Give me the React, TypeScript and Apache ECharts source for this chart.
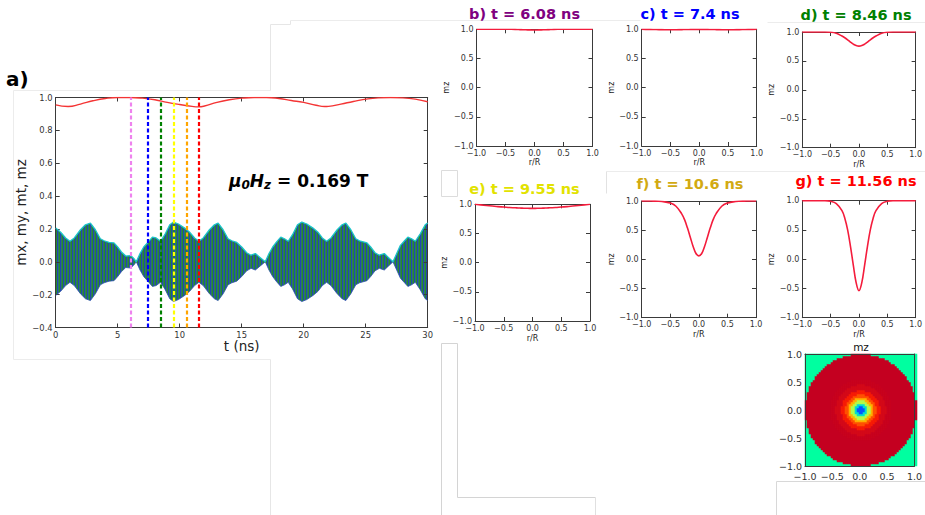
import React, { useEffect, useRef } from "react";
import * as echarts from "echarts";

// ---------------- data ----------------
// panel a: time axis (ns)
const mzT = [0, 1, 2, 3, 4, 5, 6, 7, 8, 9, 10, 11, 11.5, 12, 13, 14, 15, 16, 17, 18, 19, 20, 21, 21.7, 22, 23, 24, 25, 26, 27, 28, 29, 30];
const mzV = [0.955, 0.945, 0.96, 0.98, 0.994, 1.0, 1.0, 0.996, 0.986, 0.97, 0.957, 0.946, 0.943, 0.948, 0.97, 0.986, 0.996, 1.0, 1.0, 0.994, 0.982, 0.97, 0.953, 0.945, 0.946, 0.96, 0.976, 0.99, 0.998, 1.0, 0.998, 0.99, 0.974];

// transverse magnetisation envelope mt (mx, my oscillate inside +-mt)
const envT = [0, 0.4, 0.8, 1.15, 1.5, 2.0, 2.4, 2.8, 3.2, 3.6, 3.9, 4.3, 4.7, 5.0, 5.3, 5.65, 6.05, 6.3, 6.5, 6.8, 7.1, 7.4, 7.8, 8.1, 8.45, 8.8, 9.2, 9.5, 9.9, 10.4, 10.8, 11.2, 11.55, 11.9, 12.4, 12.8, 13.1, 13.5, 13.9, 14.2, 14.6, 15.0, 15.4, 15.75, 16.1, 16.5, 16.9, 17.2, 17.5, 17.8, 18.15, 18.45, 18.75, 19.1, 19.5, 19.85, 20.25, 20.75, 21.15, 21.5, 21.85, 22.2, 22.7, 23.1, 23.4, 23.8, 24.2, 24.5, 25.1, 25.4, 25.75, 26.1, 26.5, 26.85, 27.2, 27.5, 27.8, 28.1, 28.4, 28.7, 29.0, 29.4, 29.8, 30];
const envV = [0.205, 0.18, 0.145, 0.125, 0.145, 0.195, 0.225, 0.236, 0.195, 0.14, 0.128, 0.118, 0.115, 0.09, 0.06, 0.035, 0.038, 0.02, 0.0, 0.05, 0.09, 0.115, 0.15, 0.145, 0.125, 0.165, 0.225, 0.242, 0.23, 0.205, 0.18, 0.145, 0.125, 0.145, 0.195, 0.225, 0.236, 0.195, 0.14, 0.128, 0.118, 0.09, 0.055, 0.04, 0.05, 0.025, 0.0, 0.05, 0.09, 0.12, 0.15, 0.14, 0.125, 0.165, 0.225, 0.242, 0.23, 0.205, 0.18, 0.145, 0.125, 0.145, 0.195, 0.225, 0.236, 0.195, 0.14, 0.128, 0.115, 0.09, 0.055, 0.04, 0.05, 0.025, 0.0, 0.05, 0.1, 0.125, 0.15, 0.14, 0.125, 0.17, 0.225, 0.236];

// snapshot times (dashed markers)
const snapT = [6.08, 7.4, 8.46, 9.55, 10.6, 11.56];
const snapColors = ["#ee82ee", "#0000ff", "#008000", "#ffff00", "#ffa500", "#ff0000"];

// radial profiles mz(r/R)
const rVals = [-1, -0.9, -0.8, -0.7, -0.6, -0.5, -0.4, -0.3, -0.25, -0.2, -0.15, -0.1, -0.05, 0, 0.05, 0.1, 0.15, 0.2, 0.25, 0.3, 0.4, 0.5, 0.6, 0.7, 0.8, 0.9, 1];
const profB = [1, 1, 1, 1, 1, 1, 1, 0.997, 0.995, 0.993, 0.991, 0.99, 0.989, 0.988, 0.989, 0.99, 0.991, 0.993, 0.995, 0.997, 1, 1, 1, 1, 1, 1, 1];
const profC = [1, 0.999, 0.997, 0.995, 0.993, 0.992, 0.993, 0.995, 0.996, 0.997, 0.998, 0.998, 0.998, 0.998, 0.998, 0.998, 0.998, 0.997, 0.996, 0.995, 0.993, 0.992, 0.993, 0.995, 0.997, 0.999, 1];
const profD = [1, 1, 1, 1, 1, 0.997, 0.98, 0.93, 0.9, 0.865, 0.825, 0.79, 0.765, 0.755, 0.765, 0.79, 0.825, 0.865, 0.9, 0.93, 0.98, 0.997, 1, 1, 1, 1, 1];
const profE = [1, 0.99, 0.98, 0.97, 0.96, 0.953, 0.945, 0.94, 0.937, 0.935, 0.933, 0.932, 0.931, 0.931, 0.931, 0.932, 0.933, 0.935, 0.937, 0.94, 0.945, 0.953, 0.96, 0.97, 0.98, 0.99, 1];
const profF = [1, 1, 0.998, 0.995, 0.985, 0.965, 0.91, 0.78, 0.68, 0.54, 0.38, 0.22, 0.1, 0.06, 0.1, 0.22, 0.38, 0.54, 0.68, 0.78, 0.91, 0.965, 0.985, 0.995, 0.998, 1, 1];
const profG = [1, 1, 1, 1, 1, 0.99, 0.95, 0.83, 0.7, 0.5, 0.22, -0.1, -0.4, -0.54, -0.4, -0.1, 0.22, 0.5, 0.7, 0.83, 0.95, 0.99, 1, 1, 1, 1, 1];

const panelTitles = ["b) t = 6.08 ns", "c) t = 7.4 ns", "d) t = 8.46 ns", "e) t = 9.55 ns", "f) t = 10.6 ns", "g) t = 11.56 ns"];
const panelProfiles = [profB, profC, profD, profE, profF, profG];

// heatmap (h): mz map of the disk, built from profile g; outside the disk mz = 0
const mapCells = 56;
const outsideValue = 0;

// ---------------- layout / styles ----------------
const FONT = "DejaVu Sans";
const AXC = "#3a3a3a";
const panelLayout = [
  { l: 476.5, t: 29.3, w: 116, h: 116.7, tx: 524.5, ty: 14, color: "#800080", xg: 12 },
  { l: 641.7, t: 29.3, w: 115, h: 116.7, tx: 690, ty: 14, color: "#0000ff", xg: 12 },
  { l: 802.3, t: 32, w: 116, h: 115.7, tx: 856, ty: 15, color: "#008000", xg: 13 },
  { l: 475, t: 204.3, w: 115, h: 116.7, tx: 524.5, ty: 189, color: "#e2e200", xg: 13 },
  { l: 641.7, t: 201, w: 114.3, h: 116.7, tx: 690, ty: 183.5, color: "#d2aa12", xg: 13 },
  { l: 802.3, t: 200.7, w: 116, h: 117, tx: 856, ty: 181, color: "#ff0000", xg: 13 },
];
// colour scale of the map, spread over mz in [-0.6, 1]
const mapMin = -0.6;
const mapMax = 1;
const jet = ["#0030e0", "#0058ff", "#00b8ff", "#00ffa0", "#a8ff50", "#ffe000", "#ff8000", "#ff2000", "#c40020"];

const fmt1 = (v: number) => v.toFixed(1).replace("-", "\u2212");
const fmt0 = (v: number) => String(Math.round(v));

function stripePattern() {
  const c = document.createElement("canvas");
  c.width = 3;
  c.height = 2;
  const ctx = c.getContext("2d")!;
  const cols = ["#2346b0", "#2a7a66", "#268a2c"];
  cols.forEach((col, i) => {
    ctx.fillStyle = col;
    ctx.fillRect(i, 0, 1, 2);
  });
  return { image: c.toDataURL(), repeat: "repeat", imageWidth: 3, imageHeight: 2 } as any;
}

function buildOption() {
  const grids: any[] = [];
  const xAxes: any[] = [];
  const yAxes: any[] = [];
  const series: any[] = [];

  const valAxis = (gi: number, pos: string, mm: number[], label: any, name: string, gap: number, nameFs: number, ticks: boolean, z = 3) => ({
    type: "value",
    gridIndex: gi,
    position: pos,
    min: mm[0],
    max: mm[1],
    interval: mm[2],
    axisLine: { show: true, onZero: false, lineStyle: { color: AXC, width: 1 } },
    axisTick: { show: ticks, inside: true, length: 4, lineStyle: { color: AXC, width: 1 } },
    axisLabel: label
      ? { show: true, fontSize: label.fs, color: "#333", fontFamily: FONT, margin: label.m, formatter: label.f, showMinLabel: true, showMaxLabel: true }
      : { show: false },
    splitLine: { show: false },
    name,
    nameLocation: "middle",
    nameGap: gap,
    nameTextStyle: { fontSize: nameFs, fontFamily: FONT, color: "#222" },
    z,
  });

  const addFrame = (rect: any, xr: number[], yr: number[], lab: any, xname: string, yname: string, xgap: number, ygap: number, nameFs: number, ticks: boolean, z = 3) => {
    const gi = grids.length;
    grids.push({ left: rect.l, top: rect.t, width: rect.w, height: rect.h, containLabel: false });
    const xi = xAxes.length;
    const yi = yAxes.length;
    xAxes.push(valAxis(gi, "bottom", xr, { fs: lab.fsx || lab.fs, m: lab.mx, f: lab.fx }, xname, xgap, nameFs, ticks, z));
    xAxes.push(valAxis(gi, "top", xr, null, "", 0, nameFs, ticks, z));
    yAxes.push(valAxis(gi, "left", yr, { fs: lab.fs, m: lab.my, f: lab.fy }, yname, ygap, nameFs, ticks, z));
    yAxes.push(valAxis(gi, "right", yr, null, "", 0, nameFs, ticks, z));
    return { gi, xi, yi };
  };

  // ---- panel a ----
  const a = addFrame(
    { l: 55.7, t: 97.5, w: 372, h: 230 },
    [0, 30, 5],
    [-0.4, 1.0, 0.2],
    { fs: 8.4, mx: 3, my: 3, fx: fmt0, fy: fmt1 },
    "t (ns)",
    "mx, my, mt, mz",
    11,
    26,
    13.5,
    true
  );
  const common = { xAxisIndex: a.xi, yAxisIndex: a.yi, symbol: "none", showSymbol: false, silent: true };
  const pattern = stripePattern();
  // mx / my fast oscillation: filled band between -mt and +mt, striped
  series.push({
    type: "custom",
    xAxisIndex: a.xi,
    yAxisIndex: a.yi,
    silent: true,
    z: 2,
    data: [[0, 0]],
    renderItem: (_params: any, api: any) => {
      const pts: number[][] = [];
      envT.forEach((t, i) => pts.push(api.coord([t, envV[i]])));
      for (let i = envT.length - 1; i >= 0; i--) pts.push(api.coord([envT[i], -envV[i]]));
      return { type: "polygon", shape: { points: pts }, style: { fill: pattern, stroke: null } };
    },
  });
  series.push({
    ...common,
    type: "line",
    name: "lower",
    data: envT.map((t, i) => [t, -envV[i]]),
    lineStyle: { color: "#2a4fa8", width: 0.8 },
    z: 3,
  });
  series.push({
    ...common,
    type: "line",
    name: "mt",
    data: envT.map((t, i) => [t, envV[i]]),
    lineStyle: { color: "#1cc4c8", width: 1.3 },
    z: 3,
    markLine: {
      silent: true,
      symbol: ["none", "none"],
      label: { show: false },
      data: snapT.map((t, i) => ({ xAxis: t, lineStyle: { color: snapColors[i], type: [4, 2.5], width: 2.2 } })),
    },
  });
  series.push({
    ...common,
    type: "line",
    name: "mz",
    data: mzT.map((t, i) => [t, mzV[i]]),
    smooth: 0.5,
    lineStyle: { color: "#f43434", width: 1.4 },
    z: 4,
  });

  // ---- panels b..g ----
  panelLayout.forEach((p, k) => {
    const f = addFrame(
      p,
      [-1, 1, 0.5],
      [-1, 1, 0.5],
      { fs: 8, mx: 3, my: 3, fx: fmt1, fy: fmt1 },
      "r/R",
      "mz",
      p.xg,
      25,
      8,
      true
    );
    series.push({
      type: "line",
      xAxisIndex: f.xi,
      yAxisIndex: f.yi,
      symbol: "none",
      showSymbol: false,
      silent: true,
      smooth: 0.4,
      data: rVals.map((r, i) => [r, panelProfiles[k][i]]),
      lineStyle: { color: "#f41c3c", width: 1.6 },
    });
  });

  // ---- panel h: heatmap ----
  const hRect = { l: 805, t: 354, w: 112, h: 112 };
  const hgi = grids.length;
  grids.push({ left: hRect.l, top: hRect.t, width: hRect.w, height: hRect.h, containLabel: false });
  const idx = Array.from({ length: mapCells }, (_, i) => String(i));
  const hxi = xAxes.length;
  const hyi = yAxes.length;
  xAxes.push({ type: "category", gridIndex: hgi, data: idx, show: false });
  yAxes.push({ type: "category", gridIndex: hgi, data: idx, show: false });
  const posR = rVals.map((r, i) => ({ r, v: profG[i] })).filter((d) => d.r >= 0);
  const cells: number[][] = [];
  for (let i = 0; i < mapCells; i++) {
    for (let j = 0; j < mapCells; j++) {
      const x = -1 + ((i + 0.5) * 2) / mapCells;
      const y = -1 + ((j + 0.5) * 2) / mapCells;
      const r = Math.sqrt(x * x + y * y);
      let v = outsideValue;
      if (r <= 1) {
        let best = posR[0];
        posR.forEach((d) => {
          if (Math.abs(d.r - r) < Math.abs(best.r - r)) best = d;
        });
        v = best.v;
      }
      cells.push([i, j, v]);
    }
  }
  const hmIndex = series.length;
  series.push({
    type: "heatmap",
    xAxisIndex: hxi,
    yAxisIndex: hyi,
    data: cells,
    silent: true,
    progressive: 0,
    itemStyle: { borderWidth: 0 },
    emphasis: { disabled: true },
  });
  addFrame(hRect, [-1, 1, 0.5], [-1, 1, 0.5], { fs: 9.5, fsx: 9.5, mx: 5, my: 3, fx: fmt1, fy: fmt1 }, "", "", 10, 10, 10, false, 5);

  // ---- graphics: labels, titles, faint composition lines ----
  const faintLines = [
    [13, 90, 270, 90, "#ececec"], [13, 90, 13, 359, "#ececec"], [13, 359, 270, 359, "#ececec"],
    [270, 24, 270, 90, "#e6e6e6"], [270, 24, 290, 24, "#e6e6e6"], [290, 20, 290, 24, "#e6e6e6"],
    [290, 20, 640, 20, "#ececec"], [767, 22, 925, 22, "#ececec"], [270, 359, 270, 515, "#e6e6e6"],
    [441, 343, 457, 343, "#d4d4d4"], [441, 343, 441, 515, "#d4d4d4"], [457, 343, 457, 497, "#d4d4d4"],
    [457, 497, 595, 497, "#d4d4d4"], [595, 497, 595, 515, "#e0e0e0"],
    [776, 481, 925, 481, "#d8d8d8"], [776, 481, 776, 515, "#d8d8d8"],
    [441, 170, 457, 170, "#dcdcdc"], [441, 170, 441, 196, "#dcdcdc"], [441, 196, 457, 196, "#dcdcdc"], [457, 170, 457, 196, "#dcdcdc"],
    [606, 171, 925, 171, "#ececec"], [606, 171, 606, 193, "#e2e2e2"],
  ];
  const graphics: any[] = faintLines.map((l) => ({
    type: "line",
    silent: true,
    z: 0,
    shape: { x1: (l[0] as number) + 0.5, y1: (l[1] as number) + 0.5, x2: (l[2] as number) + 0.5, y2: (l[3] as number) + 0.5 },
    style: { stroke: l[4] as string, lineWidth: 1 },
  }));
  const txt = (x: number, y: number, text: string, fontSize: number, fill: string, bold: boolean, align = "center") => ({
    type: "text",
    x,
    y,
    silent: true,
    z: 10,
    style: {
      text,
      fill,
      fontSize,
      fontFamily: FONT,
      fontWeight: bold ? "bold" : "normal",
      align,
      textAlign: align,
      verticalAlign: "middle",
      textVerticalAlign: "middle",
    },
  });
  graphics.push(txt(6, 78.5, "a)", 20, "#000", true, "left"));
  panelLayout.forEach((p, k) => graphics.push(txt(p.tx, p.ty, panelTitles[k], 14.5, p.color, true)));
  graphics.push(txt(861, 347, "mz", 10.5, "#111", false));
  graphics.push({
    type: "text",
    x: 229,
    y: 181,
    silent: true,
    z: 10,
    style: {
      text: "{m|\u03bc}{s|0}{m|H}{s|z}{n| = 0.169 T}",
      fill: "#000",
      align: "left",
      verticalAlign: "middle",
      textAlign: "left",
      textVerticalAlign: "middle",
      rich: {
        m: { fontSize: 17, fontWeight: "bold", fontStyle: "italic", fontFamily: FONT, fill: "#000" },
        s: { fontSize: 12, fontWeight: "bold", fontStyle: "italic", fontFamily: FONT, fill: "#000", padding: [7, 0, 0, 0] },
        n: { fontSize: 17, fontWeight: "bold", fontFamily: FONT, fill: "#000" },
      },
    },
  });

  return {
    animation: false,
    backgroundColor: "#ffffff",
    textStyle: { fontFamily: FONT },
    grid: grids,
    xAxis: xAxes,
    yAxis: yAxes,
    visualMap: [{ type: "continuous", show: false, seriesIndex: hmIndex, min: mapMin, max: mapMax, inRange: { color: jet } }],
    series,
    graphic: graphics,
  };
}

export default function App() {
  const ref = useRef<HTMLDivElement>(null);
  useEffect(() => {
    if (!ref.current) return;
    const chart = echarts.init(ref.current, undefined, { renderer: "svg" });
    chart.setOption(buildOption() as any);
    return () => chart.dispose();
  }, []);
  return <div ref={ref} style={{ position: "fixed", left: 0, top: 0, width: 925, height: 515, background: "#fff" }} />;
}
